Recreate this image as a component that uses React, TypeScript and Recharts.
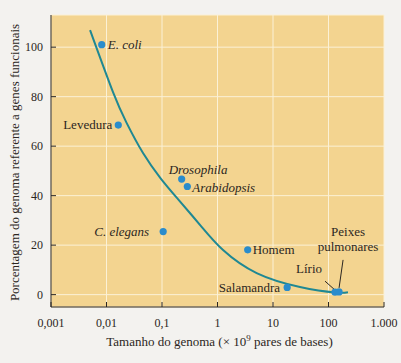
import React from "react";
import { ComposedChart, XAxis, YAxis, CartesianGrid, Line, Scatter } from "recharts";

// organismos: tamanho do genoma (x 10^9 pb) e % do genoma com genes funcionais
const speciesNames = [
  "E. coli",
  "Levedura",
  "Drosophila",
  "Arabidopsis",
  "C. elegans",
  "Homem",
  "Salamandra",
  "Lírio",
  "Peixes pulmonares",
];
const genomeSizes = [0.0082, 0.0163, 0.226, 0.286, 0.105, 3.5, 18, 131, 155];
const functionalPercent = [101, 68.5, 46.7, 43.7, 25.5, 18.1, 2.9, 1.0, 1.1];

// curva ajustada
const curveSizes = [0.00505, 0.0131, 0.0229, 0.0455, 0.0959, 0.194, 0.5, 1.26, 5.08, 30.6, 131, 224];
const curvePercent = [106.9, 81.8, 69.5, 57.2, 46.8, 38.6, 27.8, 18.0, 8.7, 3.1, 0.9, 1.0];

const xTicks = [0.001, 0.01, 0.1, 1, 10, 100, 1000];
const xTickLabels = ["0,001", "0,01", "0,1", "1", "10", "100", "1.000"];
const yTicks = [0, 20, 40, 60, 80, 100];

const points = speciesNames.map((name, i) => ({ name, x: genomeSizes[i], y: functionalPercent[i] }));
const curve = curveSizes.map((x, i) => ({ x, y: curvePercent[i] }));

const FONT = "'Liberation Serif', 'DejaVu Serif', serif";
const INK = "#2b2622";
const TICK_MARGIN_X = 10;
const TICK_MARGIN_Y = 8;

// onde fica cada rótulo em relação ao ponto
const labelPlacement: Record<string, any> = {
  "E. coli": { dx: 6, dy: 4, anchor: "start", italic: true },
  Levedura: { dx: -6, dy: 4, anchor: "end" },
  Drosophila: { dx: -13, dy: -5, anchor: "start", italic: true },
  Arabidopsis: { dx: 5, dy: 6, anchor: "start", italic: true },
  "C. elegans": { dx: -14, dy: 4, anchor: "end", italic: true },
  Homem: { dx: 5, dy: 4, anchor: "start" },
  Salamandra: { dx: -7, dy: 5, anchor: "end" },
  "Lírio": { dx: -13, dy: -19, anchor: "end", leader: [-10, -11, -1, -3] },
  "Peixes pulmonares": {
    dx: 9,
    dy: -56,
    anchor: "middle",
    lines: ["Peixes", "pulmonares"],
    leader: [4, -32, 0, -4],
  },
};

const renderPoint = (props: any) => {
  const { cx, cy, payload } = props;
  const p = labelPlacement[payload.name] || { dx: 6, dy: 4, anchor: "start" };
  return (
    <g>
      {p.leader && (
        <line
          x1={cx + p.leader[0]}
          y1={cy + p.leader[1]}
          x2={cx + p.leader[2]}
          y2={cy + p.leader[3]}
          stroke={INK}
          strokeWidth={1}
        />
      )}
      <circle cx={cx} cy={cy} r={3.6} fill="#2a8ccc" />
      <text
        x={cx + p.dx}
        y={cy + p.dy}
        textAnchor={p.anchor}
        fontFamily={FONT}
        fontSize={13}
        fontStyle={p.italic ? "italic" : "normal"}
        fill={INK}
      >
        {p.lines
          ? p.lines.map((l: string, i: number) => (
              <tspan key={l} x={cx + p.dx} dy={i === 0 ? 0 : 15}>
                {l}
              </tspan>
            ))
          : payload.name}
      </text>
    </g>
  );
};

const renderXTick = (props: any) => {
  const { x, y, payload } = props;
  const axisY = y - TICK_MARGIN_X;
  const idx = xTicks.indexOf(payload.value);
  return (
    <g>
      <line x1={x} y1={axisY} x2={x} y2={axisY - 5} stroke={INK} />
      <text x={x} y={axisY + 20} textAnchor="middle" fontFamily={FONT} fontSize={12} fill={INK}>
        {idx >= 0 ? xTickLabels[idx] : payload.value}
      </text>
    </g>
  );
};

const renderYTick = (props: any) => {
  const { x, y, payload } = props;
  const axisX = x + TICK_MARGIN_Y;
  return (
    <g>
      <line x1={axisX} y1={y} x2={axisX + 5} y2={y} stroke={INK} />
      <text x={x} y={y + 4} textAnchor="end" fontFamily={FONT} fontSize={12} fill={INK}>
        {payload.value}
      </text>
    </g>
  );
};

const renderXLabel = (props: any) => {
  const { viewBox } = props;
  const cx = viewBox.x + viewBox.width / 2 + 2;
  return (
    <text x={cx} y={viewBox.y + 39} textAnchor="middle" fontFamily={FONT} fontSize={13} fill={INK}>
      Tamanho do genoma (× 10
      <tspan dy={-5} fontSize={9}>
        9
      </tspan>
      <tspan dy={5}> pares de bases)</tspan>
    </text>
  );
};

const renderYLabel = () => (
  <text
    x={14}
    y={162.5}
    dy="0.35em"
    transform="rotate(-90 14 162.5)"
    textAnchor="middle"
    fontFamily={FONT}
    fontSize={13}
    fill={INK}
  >
    Porcentagem do genoma referente a genes funcionais
  </text>
);

export default function App() {
  return (
    <div
      style={{
        position: "absolute",
        left: 0,
        top: 0,
        width: 401,
        height: 363,
        background: "#f3f2ef",
      }}
    >
      <ComposedChart width={401} height={363} margin={{ top: 15, right: 17, left: 11, bottom: 26 }}>
        <CartesianGrid fill="#f3d490" stroke="#fbf1d6" strokeWidth={1} fillOpacity={1} />
        <XAxis
          dataKey="x"
          type="number"
          scale="log"
          domain={[0.001, 1000]}
          ticks={xTicks}
          interval={0}
          allowDataOverflow
          height={30}
          tickSize={0}
          tickMargin={TICK_MARGIN_X}
          tickLine={false}
          tick={renderXTick}
          axisLine={{ stroke: INK }}
          label={renderXLabel}
        />
        <YAxis
          type="number"
          dataKey="y"
          domain={[-5, 113]}
          ticks={yTicks}
          interval={0}
          allowDataOverflow
          width={40}
          tickSize={0}
          tickMargin={TICK_MARGIN_Y}
          tickLine={false}
          tick={renderYTick}
          axisLine={{ stroke: INK }}
          label={renderYLabel}
        />
        <Line
          data={curve}
          dataKey="y"
          type="natural"
          stroke="#1f8893"
          strokeWidth={2}
          dot={false}
          activeDot={false}
          isAnimationActive={false}
        />
        <Scatter data={points} dataKey="y" shape={renderPoint} isAnimationActive={false} />
      </ComposedChart>
    </div>
  );
}
